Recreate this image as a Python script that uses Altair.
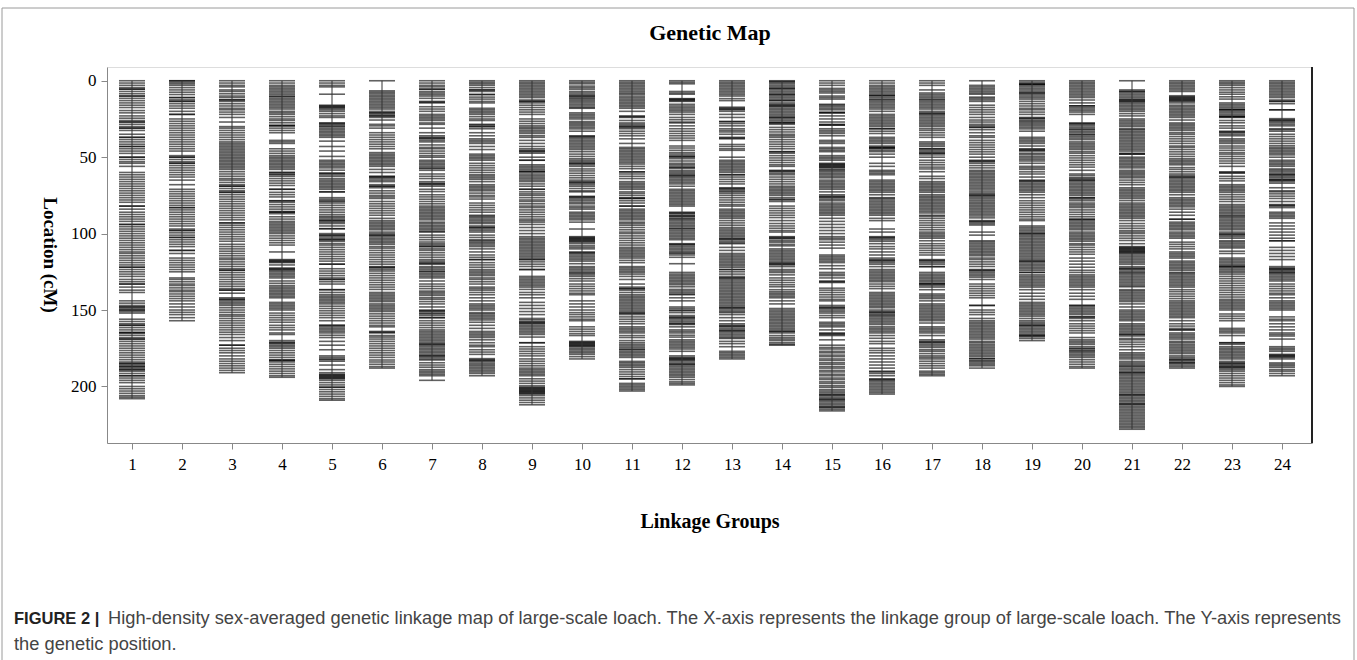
import altair as alt
import pandas as pd

# Marker positions (cM) for each linkage group
lg01 = [0,1.5,3,4.5,5.5,5.5,7,8.5,10,10,11.5,13,14.5,16,17.5,19.5,21,23,24.5,26,27,27,28.5,30,31,31,32.5,35,37,37,38.5,40,41.5,43,43,44.5,46,47.5,50,50,51.5,53,54,56,60,61.5,63,64.5,66,67.5,69,70.5,72,73.5,75,76.5,78,79.5,82,82,84,86,87.5,89,90.5,92,94,94,95.5,97,98.5,100,101.5,103,104.5,106,107.5,109,110.5,112,113,114.5,116,117.5,119,120.5,122,122,123.5,125,126.5,128,130,131.5,133,133,135,137,138.5,144,145.5,147,148,148,149,150,150,151,152,156,157.5,159,160,160,161.5,163,164.5,165,165,166.5,168,169,169,170.5,172,173.5,175,176.5,178,179.5,181,182.5,184,185,185,186,187,187,188,189,189,190,191.5,193,193,194.5,196,197.5,200,201.5,203,204.5,206,207,208]
lg02 = [0,0,1,2,3,4.5,6,7.5,9,11,11,12.5,13.5,13.5,15,16.5,18,20,22,22,25,26.5,28,29.5,31,32.5,34,35.5,37,38.5,40,41.5,43,44.5,46,49,50,50,51.5,53,54,54,55.5,57,58.5,60,61.5,63,65,68,71,72.5,74,75.5,77,78.5,80,81.5,83,83,84.5,86,87.5,89,90.5,92,93.5,95,97,98,98,99.5,101,102.5,102.5,104,105.5,107,108.5,111,111,113,116,117.5,119,120.5,122,123.5,125,129,130,131.5,133,134,135.5,137,138,139.5,141,142.5,144,146,148,150,151.5,153,155,157]
lg03 = [0,1.5,3,4,6,7,8.5,10,11,12.5,12.5,13.5,15,16.5,18,19,20.5,22,24,27,30,31,32.5,34,35.5,37,38.5,40,41,42,43,44,45,46,47,48,49,50,51,52,53,54,55,56,57,58,59.5,61,62.5,64,65,66.5,68,69,69,70.5,72,73,73,74.5,76,77.5,79,80.5,82,83.5,85,86.5,88,89.5,91,93,93,94.5,96,97.5,99,100.5,102,103.5,105,107,108.5,110,111.5,113,114.5,116,117,118.5,120,121.5,123,124,124,125.5,127,128.5,130,131.5,133,134.5,136,137,137,139,142,143,143,144,145,146,147,148.5,150,151.5,153,154,155.5,157,158.5,160,161.5,163,164.5,166,168,170,173,173,175,176.5,178,180,182,183.5,185,186.5,188,189.5,191]
lg04 = [0,1.5,3,4,5,6,7,8,9,10,10.5,11.5,12.5,13.5,14.5,15.5,16.5,17.5,18.5,20,21,22,23.5,25,26,27.5,29,29.5,29.5,31,32.5,34,39,40,41,44.5,46,47.5,49,50,51,52,53,54,55,56,57,58,60,60,61,61.5,62.5,64,65.5,67,68.5,71,71,73,74.5,76,78.5,78.5,79.5,81,82.5,84,85.5,86,86,87,89,90.5,92,93,94,95,96,97,98,99,100,101.5,103,104.5,106,107.5,112,117,117.5,118,118.5,119,120.5,122.5,123,123.5,124,125,126,127,128,129,131,132.5,134,135,136,137,138,139,140,141,142,145,146,147,148,149,150,152,153.5,155,156.5,158,160,161.5,163,165,166,170,171,171.5,172,173,174,175,176.5,178,179.5,181,182.5,183,183,184,185.5,187,188.5,190,191.5,193,194]
lg05 = [0,1.5,3,4,8.8,16,16.5,17,17.5,18,19,20,21.5,23,24,27.5,28,28.5,29.5,30,31,32,33,34,35,36,37,39.5,43,46,49.5,52,53,54,55,56,57,58.5,60.5,60.5,61.5,62.5,64,65,66,67,68,69,70,71,72.7,72.7,76.5,77.5,78.5,79,80,81.5,83,84.5,86,87.5,88.7,89.5,90.5,91.5,91.5,92.5,93.4,95,96.8,96.8,100,101,101,102,103,104,104,105,106.5,107.5,109,110.5,112,113.5,115,116.5,118,120,120,123,124.5,126,127.5,129,130,130,131.5,133,136.7,136.7,138.5,140,141,142,143,144,145,146,147.5,149,150.5,152,153.5,155,157,160,160,161,162,163,164,165,166.5,168,170.5,173,176,180,181,182,182.5,183.5,186,189,191,192,192.5,193,193.5,194,194.5,195,196,197.5,199,200.5,200.5,202,203.5,205,206.5,208,209]
lg06 = [0,6.6,7.5,8.5,9.5,10.5,11.5,12.5,13.5,14.5,15.5,16.5,17.5,18.5,20,21,21,22,23,23,24,25.7,28.5,29.5,31,34,35.5,37,38.5,40,41.5,43,44.5,47,48,49,50,51,52,53,54,55,56,58,60,62.4,63,63,64,65,66,68,69,69,70,72,73.5,75,76,77,79,80.5,82,83.5,85,86.5,88,90,91.5,92.5,93.5,94.5,95.5,96.5,97.5,99,100,101,101,102,103,104,105,106,107,108.5,109.5,111,112.5,114,115.5,117,118.5,120,121.6,122,122.5,123.5,124.5,126,127.5,129,130.5,132,133.5,135,136.5,138.5,139.5,140.5,141.5,142.5,143.5,144.5,146,147,148,149,150,151,152.5,154,155.5,157,158.5,160,161,164,164.5,165,166.7,167.7,169,170.5,172,173.5,175,176.5,178,179.5,181,182.7,184,185.5,187,188]
lg07 = [0,1.5,3,4,5.5,5.5,7,8,9,10,11.5,13.5,14,14.5,17,18.5,20,22,23,24,25,26,27.6,28.5,31,34,36,37,37.5,38,39,40,42,43.6,44.5,46,47.5,49,50,52,53,54,55,56,57,57.5,58.6,61,62.5,64,66,67,67.5,68,69,71,72.5,74.6,76,77.5,79,80.5,82,83,84,85,86,87,88,89,90,91,92.5,93.4,94.5,95.5,96.5,97.5,98.5,99,101,102.5,104,105.5,106.6,107.5,108.5,108.5,110,111,112.5,114,115.5,117,118,119,119.5,120,121.6,122.5,123.5,124.5,125,126,127,128,129,131,133,134.5,136,137.6,138.5,139.5,140.5,142,143,144.5,146,148,150,150.5,151,152,152.6,153.6,155,155,157,158.5,160,161.5,163,164,165,166,167,168,169,170,171,172,172.4,173,174,175,176,177,178,179,180,180,181,182,182.7,184.5,186,187.4,189,190,191,192,193,196]
lg08 = [0,1,2,3,4.5,6,6,7,9,9,10.7,12,13.5,14.5,18,19,20,21,22,23.5,25,26,28.5,29,30,30,31.4,34,36,38,39,40,41,43,45,48,49,50,51,52,54,55.5,57,58.5,60,61.5,62.4,63.5,64.5,66,68,69,70,71,72,73.5,75,76,77.4,80,81.5,83,84.5,86,88,88.7,89.5,90.5,91.5,92.5,93.4,95,96,96,97,98,99,101,102.5,104,104.7,105.6,106.5,107.5,108.5,110,112,114,115.5,117,117,119,120.5,122,123.5,124.5,125.5,126.5,127.5,129,130,131.5,133,135,136,137,138.5,140,142,144,146,147,148,149,150,151.7,152.5,153.5,154.5,155.5,156.5,158,160,162,164,165,166,167,168,169.5,171.4,173,174,176,177.5,179,181.8,182.5,183,183.5,184.6,185.5,186.5,187.5,188.5,189.5,190.5,191.5,193]
lg09 = [0,1,2,3,4,5,6,7,8,9,10,11,12.6,13.5,13.5,14.5,16,17.5,19,20.5,22,25,26.5,28,29.5,30.5,31.4,32.5,33.5,34.5,36,37,39,41,43,44.5,45.5,46,46.5,47.4,50,52,52,55,56,57,58,59,59.6,59.6,61,62,63,64,65,66,67.5,69,71,71,72.7,74,75,76.5,78,79,80.5,82,83,84.5,86,87.5,89,90.5,91.5,92.5,94,96,98,100,102,103,104,105,106,107,108,109,110,111,112,113,114,115,116,117,117,118.5,120,121.5,123.5,123.5,128,129,130,131,132,133,134,135,136.5,138.5,140,142,145,147,149,151,153,155.5,156.4,157.5,158,158.5,159,160,161,162,163,164,165,166,167.7,171.4,171.4,174,175.5,177,178.5,180,182,183.5,185,186.5,188,189,190,191,192,193,195,196.5,198,199.6,200.5,201,201.5,202,202.5,203,203.5,204,204.5,205,206,207.5,209,210.5,212]
lg10 = [0,1,2,3.5,4.5,5.5,7,8,9,10,10,11,11.7,12.6,13.5,14.5,15.5,16.5,17.5,18,21,22,23,24,25,26.7,27.6,28.5,29.5,30.5,31.5,33,36,36.5,37,38,39,40,41,42,43,44,45,46.4,48,49.5,51,52,53,54,54,55,56,57.7,59,60.5,62,63.5,65,66,66.5,67,68,69,70.5,72,72.7,75.6,76,76.5,77.4,78.4,79.5,80.5,82,83,84,86,87,88,89,90,91,92.5,97,102,102.5,103,103.5,104,104.5,105,105.6,106.6,108,109,110,112,112.5,113,114,115,116,117,118,119.7,121.6,122.5,123.5,124.5,125.5,126,127,128,129.5,131,133,134.5,136,137.5,139,140,144,146,148,150,151.7,153,154.5,156,157,161,162.5,164,165.5,166.7,170.5,171,171.5,172,172.5,173,173.5,174,175,176,177,178,179,180.5,182]
lg11 = [0,1,2,3,4,5,6,7,8,8.8,10,11,12,13,14,15,16,17,18,20,23,23.5,24,26,27.6,28.5,29.5,30,30.5,31.4,33,34.5,36,38,41,43.6,44.5,45.5,46.5,47.5,48.5,49.5,50.5,51.5,52.5,53.5,54.5,56,57.5,59.6,59.6,61,62.5,64,66,67,68,69,70,71,72.7,73.7,75,76.5,77,77,78.5,80,82,82,84,85,86,87,88,89,90,91,92.5,93.4,94.5,96,97.5,99,100,101.5,103,104.5,106,107.5,109,110,111,112,113,114,115,116,117.5,119,121.6,122.5,123.5,124.5,125.4,126.5,128,130,133,135,136,136,137,138.5,140,141,142,143,144,145,146,147,148,149,150,151,152,152,153,154.5,156,157.5,159,161,162,163,164,165,166.7,168,170,171.4,172.5,173.5,174.5,175.5,176,177,178,179,180,181,183.6,184.5,185.5,186.5,187.5,189,190.5,192,193.5,195,195,198,199,200,201,202,203]
lg12 = [0,1,2,7,8,8.8,11.7,12,12.5,13,13.5,15.4,16.5,17.5,18.5,19.5,20.5,22,24,25.5,27,27.6,29.5,31.4,33,34.5,36,37.5,39,42.7,44,45.5,47,48,49.2,49.5,50,51,52.5,54,55,56,57,57,58.6,59.6,60.5,61.5,62,62.5,63.5,64.5,65.5,66.5,67.5,69,71,72,73,74,75,76,77,78,79,80,81,82,86,86.5,87,88,88.5,89,90,90.6,91.5,92.5,93.5,94.5,95.5,96.5,97,98,99,100,101,102,103,104,106.6,107,107.5,108.5,109.5,110.5,111.5,112.5,113,114,115.5,119.7,125.4,126.5,127.5,128.5,129.5,130.5,131.5,132.5,133.5,134.8,136.5,137.5,138.5,139.5,140,142,144,148,149,150,150.5,151.7,153.6,154.5,155,155.5,156.5,157.5,158.5,159,159.5,161,163,164,165,166.5,167.7,169.5,170.5,171.5,172.5,173.5,174.5,175.5,177,180,181,181.5,182,182.5,183,184,185,185.5,186,187,188,189,190,191,192,193,194,195.5,197,198,199]
lg13 = [0,1,2,3,4,5,6,7,8,9,10,11.7,13,17.3,18,18.5,19,20,22,24,26.7,26.7,28,29.5,31.4,32.5,33.5,35,37,37.5,38,41.7,43,44.5,45.5,50,52,53,54,55,56,57,58,59,60,61.5,61.5,63,64.5,66,67.5,70,70.5,71,72,72.7,73.7,75,76.5,78,79.5,81,82,84,85,86,87,88,89,90,91.5,93,94.5,96,97,98,99,100,101,102,103,103.5,104,105,106,106.6,109,111,113,114,115,116,117,118,119,120,121,122,123.5,123.5,125,126.5,128,129,129,130,131,132,133,134,135,136,137,138,139,140,141,142,143,144,145,146,147,148,148.5,149,150,151,151.7,153,155,157,159,160,160.5,161,162,163,163.5,164,165,166,167,168,168.6,170.5,172,174,177,178,179,180,181,182]
lg14 = [0,0.5,1,2,3,4,5,5,6,7,8,9,9,10,11,12,13,13,14.5,15.4,16,16.5,17,18,19,20,21,22,23,24,24,25,26,27,27.6,27.6,28.5,30.5,32,33.5,35,36,37,38.5,40,41.5,43,44.5,46.4,46.4,47.4,49,50.5,52,53.5,55,56,58.6,59,59.5,60.5,61.5,63,64.5,66,67.5,69,70,71,72,73,74,75,76.5,77.5,78,79,82,83.5,85,86.5,88,89.5,91.5,93.4,95,96.5,98,99,102,102.5,103,103.5,104.7,105.6,107,108,110,111,112,113,114,115,116,117,118,119,119.5,120,120.5,121.6,123.5,124.5,125.5,127,129,130.5,132,133.5,134.8,136.7,138,139,140,141,142,144,146,149,150,151,152,153,154,155,156,157,158,159,160,161,162,163,164,164,165,166.7,168,169,170,171.4,172.4,173]
lg15 = [0,1.5,3,5,6,7,8,10,11,12,15.4,16,17,18,19,20.5,21,21,23,25,27,28.5,29,29,31.4,32.5,33.5,34.5,36,39,40,41,43.6,44.5,45.5,46.4,49,50,51,52,54,54.5,55,55.5,56,56.5,57,58,58.6,59.5,60.5,61.5,62.5,63.5,65,66,67,68,69,70,71,72.7,74.6,75.5,76,76.5,77.5,78.5,80,81,82,83,84,85,86,87,88,90,92,94,96,98,100,102,103,104,105.6,107.5,109.5,114,115,116,117,118,119,121,123,125.4,126.5,127.5,129,131,131.5,132,135.7,137,138.5,140,141.5,143,144,147,148,148.5,149,150,151,152,153.6,155,158,159,160,161,163,165,165.5,166,166.7,169.5,173,174.5,175.5,177,178,179.5,180.5,182,183,184.5,185.5,187,188,189.5,190.5,192,193,194.5,195.5,197,198,199.5,200.5,202,203,204,205,205.5,206,207,208,208.5,209,210,211,212,213,213.5,214,215,216]
lg16 = [0,1.5,3,4,5,6,7,8,9,9.8,9.8,11,12,12.6,13.5,14.5,15.5,16.5,17.5,18.5,20,22,23,24,25,26,27,28,29,30,31.4,31.4,33,34.5,37,38,39,40,41,42.7,43.6,43.6,44,44.5,45.5,46.4,48,50,54,56,58.6,59.5,60.5,61.5,65,66,67,68,69,70,71,72,73,74.6,76.5,77,78,79,80,81,82,83,84,85,86,87,88,90,91.5,97,99,102,102.5,103,104,105,106.6,108.5,110,112,114,116,117,117.5,118,119,120,121.6,123.5,124.5,125.5,126.5,127.5,128.5,129.5,130.5,131.5,133,134.5,136,138.5,139.5,140.5,141.5,142.5,143.5,144.5,145.5,146.5,147.5,148.5,150,151,151.5,152,153,153.6,154.5,155.5,156.5,157.5,158.5,159.5,161,162,163,164,165,166.7,168.5,170.5,172,175,176.5,178,180,182,184,186,188,190,190.5,191.5,193,195,195.5,196,197,198,199,200,201,202,203,204,205]
lg17 = [0,1.5,3,6,8,9,10,11,12,12.6,13.5,14.5,15.5,16.5,17.5,18.5,20,21,21.5,22,23,24,25,26,27,28,29,30,31.4,32.5,34,35.5,37,40,41,42,43,44.5,44.5,45.5,46.5,47.4,47.4,48.5,50,52,53.5,55,56.5,57.7,59.5,62.5,64,66,67,68,69,70,71,72,73,74.6,75.6,76.5,77.5,78.5,79.5,80.5,81.5,82.5,83.5,84.5,85.5,86.5,88,88.7,90,91.5,93,94.5,96,97.5,99,100,101,102,103,104.7,106.6,108,109.5,111,112.5,114,117,117.5,118,119,120,121.6,121.6,125.4,126.5,127.5,128.5,129.5,130.5,131.5,132.5,133,133,134,135,136.7,139.5,140.5,141.5,142.5,144,146,147,148,149,150,151,152,153,154,155,156,157,158.5,161,162,163,164,165,166.7,169.5,170.5,171,171.5,172.5,173.5,174.5,176,177,178.5,180,181,182,183.5,185,186.5,188,190,191,192,193]
lg18 = [0,3,4,5,6,7,8,8.8,10.7,11.5,12.5,13.5,16,17.5,19,20.5,22,24,25.7,27,28.5,29.5,30.5,30.5,32,34,36,37,39,40.5,42,43.5,45,46.5,48,50,52,52.5,53,54,55.5,57,58.6,59.5,60.5,61.5,62.5,63.5,64.5,65.5,66.5,67.5,68.5,69.5,70.5,71.5,72.7,73.7,74.5,75,75.5,76.5,77.4,78.5,79.5,80.5,81.5,82.5,83.5,84.5,85.5,86.5,87.5,88.5,89.7,91.5,92,92.5,93.5,94.4,99,101,104.7,105.5,106.5,107.5,108.5,109.5,110.5,111.5,112.5,113.5,114.5,116,117,118.5,120,121.5,123.5,124,124.5,125.5,126.5,127.5,128.5,130,133,134.5,136,137.5,139,140.5,142,147,147,150,151.5,153,155.5,157,158,159,160,161,162,163,164,165,166,167,168,169,170.5,171.4,172.5,173.5,174.5,175.5,176.5,177.5,178.5,179.5,180.5,181.8,181.8,183,183.6,184.6,185.5,186.5,188]
lg19 = [0,1,2,2.3,2.3,3,4,5,6,7,8,8,9,10,11,12,13.5,15,16.5,18,19,20.5,22,24,24.5,25,26,26.7,27.6,28.5,29.5,30.5,31.5,33,37,38,39,40,41,42.7,44.5,45,45.5,46,47.4,48.3,49.5,50.5,51.5,52.5,54,56,57,58,59.6,61,63,65,65.5,66,67,68,69,70,71,72,73,74.6,76.5,78.5,80,81.5,83,84.5,86,87.5,89,90.5,91.5,95,96,97,98,99,100,100,101,102,103,104,105,106,107,108,109,110,111,112,113,114,115,116,117,118,118,119,120,121,122,123,124,125.4,125.4,127,128,129,130,131,132,133,134,135,136.7,139,141,143,145,146,147,148,149,150,151,152,153,154,155.5,157,158,159,160,160,161,162,163,164,165,166,166.7,166.7,167.5,168.6,170]
lg20 = [0,1,2,3,4,5,6,7,8,9,10,11,12.6,14.5,16.4,16.4,17.5,18.5,19.5,20.5,22,27.6,28,28.5,29.5,30.5,31.5,32,33,34,35,35.5,36.5,37.5,38.5,40,41,42,43,44,45,46.4,47.4,49,50.5,52,53.5,55,56.5,58.6,61,62,63.3,64,65,65,66,67,68,69,70,71,72,73,74,75,76.5,76.5,77.4,78.5,80,81,82,83,84.5,86,87.5,89,90.6,90.6,91.5,92.5,93.5,94.5,95.5,96.5,97.5,99,100,101,102,103,104,105,106.6,107.5,109,110.5,112,113.5,116,118,120,122,124,125.4,127,128,129,130,131,132,133,134,135,136.7,139,141,143,147,147,148,149,150,151,152,153,154.5,154.5,155.5,157,159,160.5,162,163.5,165,168,169.5,170.5,171.5,172.5,174,175,175.5,176.5,177,178,179,180,181,182.5,184,185.5,187,188]
lg21 = [0,6,7,7,8,9,10,11,12,12.5,13,13.5,14,15,16,17,18,19,20,21.5,23,25,26,27,28,29,30,31.4,32,33,34,35,36,37,38,39,40,41,42,43,44,45,46,47.4,48,48,50,51,52,53,54,55,56,57,58.6,59.6,60.5,61.5,62.5,63.5,65,66.5,68,70,71,72,73,74,75,76,77,78.4,80,81,82,83,84,85,86,87,88,89,90,91.5,93.4,95,96.5,98,99,100,101.5,103,104.5,106.6,108.5,109,109.5,110,110.5,111,111.5,112,112.5,113,114,115,116,117,118,119,120,121.6,122.5,123,123.5,124.5,125.4,126,127,128,129,130,131,132,133,134,134.8,136.7,137.5,138.5,139.5,140.5,141.5,142.5,143.5,144.5,146,148,150,151,152,153,154,155,156,157,159,160,161,162,163,164,165,166,166,167,168.6,169.5,171,172.5,174,176,178,179,180,181,182,183.6,184.6,185.5,186.5,187,188,189,190,191,191,192,193,194,195,196,197,198,199,200,201,202,203,204,205,205.5,206,207,208,209,210,211,211.5,212,213,214,215,216,217,218,219,220,221,222,223,224,225,226,227,228]
lg22 = [0,1,2,3,4,5,6,7,9.8,10.5,11,11.5,12,12.5,13,13.5,14.5,16,17,18,19,20,21,22,23,24,25.7,27.6,28.5,29.5,30.5,31.5,32.5,34,35,36.5,38,39.5,41,42.7,43.6,45,46.5,48,49.5,51,52,53,54,55,56.8,58,59.5,61,62,63,63,64,65,66,67,68,69,70,71,72,73,74.6,76.5,77.5,78.5,79.5,80.5,81.5,82.5,84,86,88,90.6,90.6,92.5,93.5,94.5,95.5,96.5,97.5,99,100,101,102,103,105.6,107,108.5,110,112,113,114,115,116,118,119,120,121,122,123,124,125.4,126,127,128,129,130,131,132,133,134,135,136.7,138,139.5,141,142.5,144,145,146,147,148,149,150,151,152,153,154,155,157,159,160.5,162,163,163,165,166,167,168,169,170.5,171.4,172.5,173.5,174.5,175.5,176.5,177.5,178.5,180,181,182,182.5,183,184,184.5,185,186,187,188]
lg23 = [0,1,2,3,4.5,6,7.5,8.8,10.5,12,14.5,15.5,16.5,17.5,18.5,19,19,20,21,22,23,23.5,23.5,24,26,27.5,29.5,31,33,33.5,34,35,36,38,39,40,41,42.7,44,45.5,47,48,49.5,51,52.5,54,56,59.6,60,60.5,62.5,64,65.5,68,69,70,71,72,73,74.5,76,77.5,79,81,82,83,84,85,86,87,88,88.7,89.5,90.5,91.5,92.5,93.5,94.5,95.5,96.5,97.5,99,100,100.5,101,102,103,104.7,105.5,106.5,107.5,108.5,109.4,111.5,113,116,117,118,119,120,121,121.6,121.6,122.5,123.5,124.5,125.4,126.5,128,129.5,131,132.5,134,135.5,137,138.5,140,141.5,143,144,145,146,147,148,149,150,152.6,154,155.5,157,162,163,164,165,166.7,171.4,171.4,172.4,174,175,176,177,178,179,180,181,182,183.6,184.5,185,185.5,186.5,187,187.5,188,189,190,191.5,193,194.5,196,197.5,199,200]
lg24 = [0,1,2,3,4,5,6,7,8,9,10,11,12.6,13.5,13.5,15,19,19,24.8,25.5,26,26.5,27.5,28.5,29.5,31.4,32,33,35,36.5,38,39.5,41,42.5,43.6,44.5,45.5,46.5,47.5,48.5,50,52,53,54,55,56,57.7,58.5,59.5,60.5,61.5,61.5,62.5,63.5,64.5,65,65,66,67,70,72,72.7,74,75.5,77,79,81,81.5,82,83,86,87,88,89,90,93,95,97,99,101,103,104.7,104.7,109,111,113,115,117,121.6,122.5,123,123.5,124,125,125.5,126,127,128,129,130,131,133,134.5,136,137.5,139,140,142,144,145,146,147,148,149,150,154.5,156,157,159,161,163,165,166,167,169,174,175,176,177,179,179.5,180,180.5,181,182,184.6,185.5,186.5,187.5,189,190,191.5,193]

groups = [lg01, lg02, lg03, lg04, lg05, lg06, lg07, lg08, lg09, lg10, lg11, lg12,
          lg13, lg14, lg15, lg16, lg17, lg18, lg19, lg20, lg21, lg22, lg23, lg24]
group_ids = list(range(1, 25))
y_ticks = [0, 50, 100, 150, 200]

title_text = "Genetic Map"
x_title = "Linkage Groups"
y_title = "Location (cM)"
cap_bold = "FIGURE 2 |"
cap_line1 = ("High-density sex-averaged genetic linkage map of large-scale loach. "
             "The X-axis represents the linkage group of large-scale loach. The Y-axis represents")
cap_line2 = "the genetic position."

rows = []
spans = []
for g, vals in zip(group_ids, groups):
    for v in vals:
        rows.append({"g": g, "pos": v})
    spans.append({"g": g, "lo": min(vals), "hi": max(vals)})
markers = pd.DataFrame(rows)
span_df = pd.DataFrame(spans)

W, H = 1205, 376
xs = alt.Scale(domain=[0.5, 24.6], nice=False, zero=False)
ys = alt.Scale(domain=[-9, 237], reverse=True, nice=False, zero=False)

x_axis = alt.Axis(values=group_ids, title=None, labelFont="Liberation Serif", labelFontSize=17,
                  labelColor="black", tickSize=6, tickColor="#888", domainColor="#888",
                  labelPadding=7, grid=False, labelFlush=False)
y_axis = alt.Axis(values=y_ticks, title=None, labelFont="Liberation Serif", labelFontSize=17,
                  labelColor="black", tickSize=6, tickColor="#888", domainColor="#888",
                  labelPadding=5, grid=False)

ticks = alt.Chart(markers).mark_tick(orient="horizontal", size=26, thickness=1.6,
                                     color="black", opacity=0.62).encode(
    x=alt.X("g:Q", scale=xs, axis=x_axis),
    y=alt.Y("pos:Q", scale=ys, axis=y_axis),
)

spine = alt.Chart(span_df).mark_rule(color="#333", strokeWidth=1).encode(
    x=alt.X("g:Q", scale=xs),
    y=alt.Y("lo:Q", scale=ys),
    y2="hi:Q",
)

one = alt.Data(values=[{"a": 1}])

right_edge = alt.Chart(one).mark_rule(color="#222", strokeWidth=2).encode(
    x=alt.value(W), y=alt.value(0), y2=alt.value(H))

frame = alt.Chart(one).mark_rect(fill=None, stroke="#9a9a9a", strokeWidth=1).encode(
    x=alt.value(2 - 107), x2=alt.value(1354 - 107), y=alt.value(8 - 67), y2=alt.value(700 - 67))

def label(text, px, py, size, weight="normal", font="Liberation Serif", angle=0,
          align="center", color="black"):
    return alt.Chart(one).mark_text(text=text, font=font, fontSize=size, fontWeight=weight,
                                    angle=angle, align=align, baseline="middle",
                                    color=color).encode(
        x=alt.value(px - 107), y=alt.value(py - 67))

title = label(title_text, 710, 33, 22, "bold")
xt = label(x_title, 710, 522, 20, "bold")
yt = label(y_title, 50, 255, 19, "bold", angle=90)
c1 = label(cap_bold, 14, 619, 16.5, "bold", font="Liberation Sans", align="left", color="#222")
c2 = label(cap_line1, 108, 619, 18.3, font="Liberation Sans", align="left", color="#444")
c3 = label(cap_line2, 14, 645, 18.3, font="Liberation Sans", align="left", color="#444")

chart = alt.layer(frame, ticks, spine, right_edge, title, xt, yt, c1, c2, c3).properties(
    width=W, height=H,
    padding={"left": 107, "top": 67, "right": 45, "bottom": 217},
    autosize=alt.AutoSizeParams(type="none"),
).configure_view(stroke="#8a8a8a", strokeWidth=1).configure(background="white")

chart.save("out.html", embed_options={"renderer": "svg", "actions": False})
